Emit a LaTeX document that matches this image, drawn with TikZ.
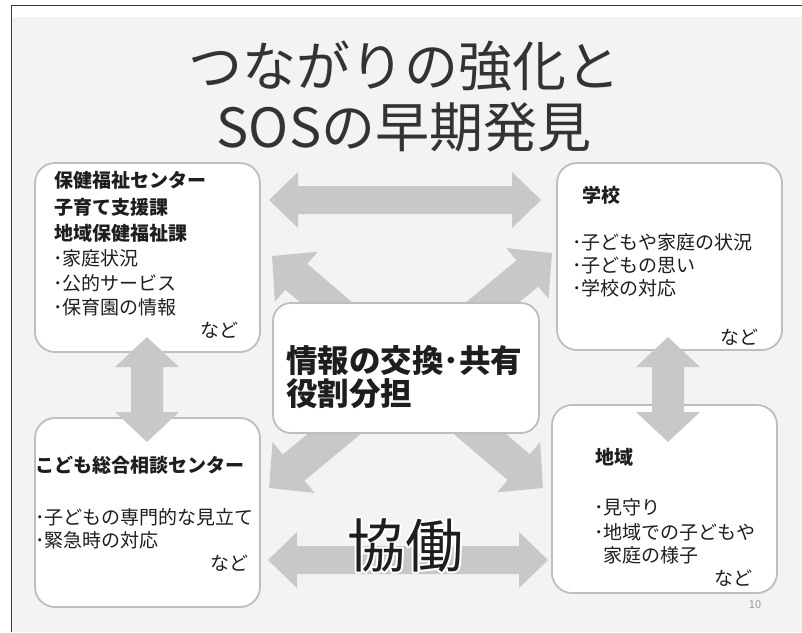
\documentclass[tikz,border=0pt]{standalone}
\usepackage{fontspec}
\setmainfont{Noto Sans CJK JP}
\usetikzlibrary{calc}
\definecolor{bg}{RGB}{243,243,243}
\definecolor{arrg}{RGB}{199,200,201}
\definecolor{boxline}{RGB}{190,190,190}
\definecolor{ink}{RGB}{30,30,30}
\definecolor{titleink}{RGB}{51,51,51}
\definecolor{frame}{RGB}{60,60,60}
% block double arrow: from, to, head length, half head width, half shaft width
\newcommand\blockarrow[5]{%
  \fill[arrg] (#1) -- ($(#1)!#3!(#2)!#4!90:(#2)$) -- ($(#1)!#3!(#2)!#5!90:(#2)$)
   -- ($(#2)!#3!(#1)!#5!-90:(#1)$) -- ($(#2)!#3!(#1)!#4!-90:(#1)$) -- (#2)
   -- ($(#2)!#3!(#1)!#4!90:(#1)$) -- ($(#2)!#3!(#1)!#5!90:(#1)$)
   -- ($(#1)!#3!(#2)!#5!-90:(#2)$) -- ($(#1)!#3!(#2)!#4!-90:(#2)$) -- cycle;}
% white outline behind text (stroke-only copy, then normal fill)
\newcommand\outlineText[1]{\rlap{\special{pdf:literal direct 1 Tr 1 1 1 RG 4 w 1 j}#1\special{pdf:literal direct 0 Tr}}#1}
\tikzset{
  cbox/.style={draw=boxline, line width=1.8pt, fill=white, rounded corners=20pt, inner sep=0pt},
  txt/.style={anchor=base west, inner sep=0pt, text=ink, font=\fontsize{19}{19}\selectfont},
  btxt/.style={txt, font=\fontsize{19}{19}\selectfont\bfseries},
  rtxt/.style={txt, anchor=base east},
}
\begin{document}
\begin{tikzpicture}[x=1pt,y=-1pt]
\useasboundingbox (0,0) rectangle (802,632);
\fill[white] (0,0) rectangle (802,632);
\fill[bg] (11.5,17) rectangle (802,632);
\draw[frame, line width=1pt] (11.5,632) -- (11.5,5) -- (802,5);

% title
\node[anchor=base, inner sep=0pt, text=titleink, font=\fontsize{54}{54}\selectfont] (title1) at (404,86) {つながりの強化と};
\node[anchor=base, inner sep=0pt, text=titleink, font=\fontsize{54}{54}\selectfont] (title2) at (404,147) {SOSの早期発見};

% corner boxes
\node[cbox, minimum width=225pt, minimum height=189pt] (tl) at (147.5,257.5) {};
\node[cbox, minimum width=225pt, minimum height=187pt] (tr) at (669.5,256.5) {};
\node[cbox, minimum width=225pt, minimum height=189pt] (bl) at (147.5,512.5) {};
\node[cbox, minimum width=225pt, minimum height=188pt] (br) at (664.5,499) {};

% arrow end points
\coordinate (hL) at (269,200);  \coordinate (hR) at (541,200);
\coordinate (bL) at (268,560);  \coordinate (bR) at (548,560);
\coordinate (vLt) at (147,337); \coordinate (vLb) at (147,442);
\coordinate (vRt) at (668,337); \coordinate (vRb) at (668,442);
\coordinate (dUL) at (272,256); \coordinate (dLR) at (543,488);
\coordinate (dUR) at (552,253); \coordinate (dLL) at (269,488);

\blockarrow{hL}{hR}{29pt}{28pt}{14pt}
\blockarrow{bL}{bR}{29pt}{28pt}{14pt}
\blockarrow{vLt}{vLb}{30pt}{32pt}{16pt}
\blockarrow{vRt}{vRb}{30pt}{32pt}{16pt}
\blockarrow{dUL}{dLR}{32pt}{33pt}{17pt}
\blockarrow{dUR}{dLL}{32pt}{33pt}{17pt}

% centre box
\node[cbox, rounded corners=18pt, minimum width=266pt, minimum height=130pt] (ctr) at (406,368) {};
\node[txt, font=\fontsize{31.5}{31.5}\selectfont\bfseries] (c1) at (286,372) {情報の交換･共有};
\node[txt, font=\fontsize{31.5}{31.5}\selectfont\bfseries] (c2) at (286,405) {役割分担};

% top-left text
\node[btxt] (tl1) at (54,187) {保健福祉センター};
\node[btxt] (tl2) at (54,214) {子育て支援課};
\node[btxt] (tl3) at (54,240) {地域保健福祉課};
\node[txt] (tl4) at (53,265) {･家庭状況};
\node[txt] (tl5) at (53,290) {･公的サービス};
\node[txt] (tl6) at (53,314) {･保育園の情報};
\node[rtxt] (tl7) at (239,337) {など};

% top-right text
\node[btxt] (tr1) at (582,202) {学校};
\node[txt] (tr2) at (572,249) {･子どもや家庭の状況};
\node[txt] (tr3) at (572,272) {･子どもの思い};
\node[txt] (tr4) at (572,295) {･学校の対応};
\node[rtxt] (tr5) at (759,344) {など};

% bottom-left text
\node[btxt] (bl1) at (35,472) {こども総合相談センター};
\node[txt] (bl2) at (35,524) {･子どもの専門的な見立て};
\node[txt] (bl3) at (35,547) {･緊急時の対応};
\node[rtxt] (bl4) at (249,570) {など};

% bottom-right text
\node[btxt] (br1) at (595,464) {地域};
\node[txt] (br2) at (594,514) {･見守り};
\node[txt] (br3) at (594,539) {･地域での子どもや};
\node[txt] (br4) at (594,562) {\hphantom{･}家庭の様子};
\node[rtxt] (br5) at (753,585) {など};

% collaboration label
\node[anchor=base, inner sep=0pt, text=ink, font=\fontsize{58}{58}\selectfont] (kyodo) at (405,567) {\outlineText{協働}};

% page number
\node[inner sep=0pt, text=black!40, font=\fontsize{11}{11}\selectfont] (pg) at (755,605) {10};
\end{tikzpicture}
\end{document}
